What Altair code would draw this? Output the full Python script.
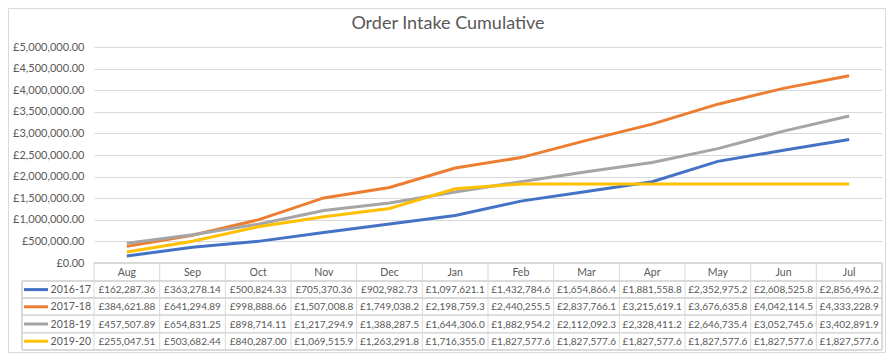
import altair as alt
import pandas as pd

months = ["Aug", "Sep", "Oct", "Nov", "Dec", "Jan", "Feb", "Mar", "Apr", "May", "Jun", "Jul"]
series_names = ["2016-17", "2017-18", "2018-19", "2019-20"]
colors = ["#4472C4", "#ED7D31", "#A5A5A5", "#FFC000"]

v_2016_17 = [162287.36, 363278.14, 500824.33, 705370.36, 902982.73, 1097621.1,
             1432784.6, 1654866.4, 1881558.8, 2352975.2, 2608525.8, 2856496.2]
v_2017_18 = [384621.88, 641294.89, 998888.66, 1507008.8, 1749038.2, 2198759.3,
             2440255.5, 2837766.1, 3215619.1, 3676635.8, 4042114.5, 4333228.9]
v_2018_19 = [457507.89, 654831.25, 898714.11, 1217294.9, 1388287.5, 1644306.0,
             1882954.2, 2112092.3, 2328411.2, 2646735.4, 3052745.6, 3402891.9]
v_2019_20 = [255047.51, 503682.44, 840287.00, 1069515.9, 1263291.8, 1716355.0,
             1827577.6, 1827577.6, 1827577.6, 1827577.6, 1827577.6, 1827577.6]

values = [v_2016_17, v_2017_18, v_2018_19, v_2019_20]

rows = []
for s, vals in zip(series_names, values):
    for m, v in zip(months, vals):
        rows.append({"month": m, "series": s, "value": v})
df = pd.DataFrame(rows)
mdf = pd.DataFrame({"month": months})

W, H = 788, 216
HEADER_H = 18
ROW_H = 17.2
GRID = "#D9D9D9"
TXT = "#595959"
FONT = "Lato"

xscale = alt.Scale(domain=months, paddingInner=0, paddingOuter=0)
xenc = lambda bp: alt.X("month:N", sort=months, scale=xscale, axis=None, bandPosition=bp)

lines = alt.Chart(df).mark_line(strokeWidth=3).encode(
    x=xenc(0.5),
    y=alt.Y("value:Q", scale=alt.Scale(domain=[0, 5000000], nice=False),
            axis=alt.Axis(values=[i * 500000 for i in range(11)], title=None,
                          labelExpr="'£' + format(datum.value, ',.2f')",
                          domain=False, ticks=False, labelPadding=10,
                          labelFont=FONT, labelFontSize=11, labelColor=TXT,
                          gridColor=GRID, gridWidth=1)),
    color=alt.Color("series:N", scale=alt.Scale(domain=series_names, range=colors), legend=None),
)

layers = [lines]

# header texts
layers.append(alt.Chart(mdf).mark_text(font=FONT, fontSize=10.5, color=TXT, baseline="middle").encode(
    x=xenc(0.5), y=alt.value(H + HEADER_H / 2 + 1), text="month:N"))

# vertical grid of table
layers.append(alt.Chart(mdf).mark_rule(color=GRID, strokeWidth=1).encode(
    x=xenc(0), y=alt.value(H), y2=alt.value(H + HEADER_H + 4 * ROW_H)))
layers.append(alt.Chart(mdf).mark_rule(color=GRID, strokeWidth=1).encode(
    x=alt.value(W), y=alt.value(H), y2=alt.value(H + HEADER_H + 4 * ROW_H)))
layers.append(alt.Chart(mdf).mark_rule(color=GRID, strokeWidth=1).encode(
    x=alt.value(-72), y=alt.value(H + HEADER_H), y2=alt.value(H + HEADER_H + 4 * ROW_H)))
# horizontal grid of table
layers.append(alt.Chart(mdf).mark_rule(color=GRID, strokeWidth=1).encode(
    x=alt.value(0), x2=alt.value(W), y=alt.value(H)))
for i in range(5):
    yy = H + HEADER_H + i * ROW_H
    layers.append(alt.Chart(mdf).mark_rule(color=GRID, strokeWidth=1).encode(
        x=alt.value(-72), x2=alt.value(W), y=alt.value(yy)))

for i, (s, c) in enumerate(zip(series_names, colors)):
    cy = H + HEADER_H + i * ROW_H + ROW_H / 2
    sub = alt.Chart(df).transform_filter(alt.datum.series == s)
    layers.append(sub.transform_calculate(
        label="'£' + format(datum.value, datum.value >= 1000000 ? ',.1f' : ',.2f')"
    ).mark_text(font=FONT, fontSize=10, color=TXT, baseline="middle").encode(
        x=xenc(0.5), y=alt.value(cy + 0.5), text="label:N"))
    layers.append(alt.Chart(pd.DataFrame({"series": [s]})).mark_rule(color=c, strokeWidth=3).encode(
        x=alt.value(-70), x2=alt.value(-46), y=alt.value(cy)))
    layers.append(alt.Chart(pd.DataFrame({"series": [s]})).mark_text(
        font=FONT, fontSize=10.5, color=TXT, align="right", baseline="middle").encode(
        x=alt.value(-3), y=alt.value(cy + 0.5), text="series:N"))

# title
layers.append(alt.Chart(pd.DataFrame({"t": ["Order Intake Cumulative"]})).mark_text(
    font=FONT, fontSize=18, color=TXT, align="center", baseline="alphabetic").encode(
    x=alt.value(354), y=alt.value(-18), text="t:N"))

# chart border
layers.append(alt.Chart(pd.DataFrame({"a": [0]})).mark_rect(
    fill=None, stroke=GRID, strokeWidth=1).encode(
    x=alt.value(-85.5), x2=alt.value(791.5), y=alt.value(-38.5), y2=alt.value(305.5)))

chart = alt.layer(*layers).properties(
    width=W, height=H,
    autosize=alt.AutoSizeParams(type="none"),
    padding={"left": 86, "top": 39, "right": 4, "bottom": 90},
).configure_view(stroke=None)

chart.save("out.html", embed_options={"renderer": "svg", "actions": False})
